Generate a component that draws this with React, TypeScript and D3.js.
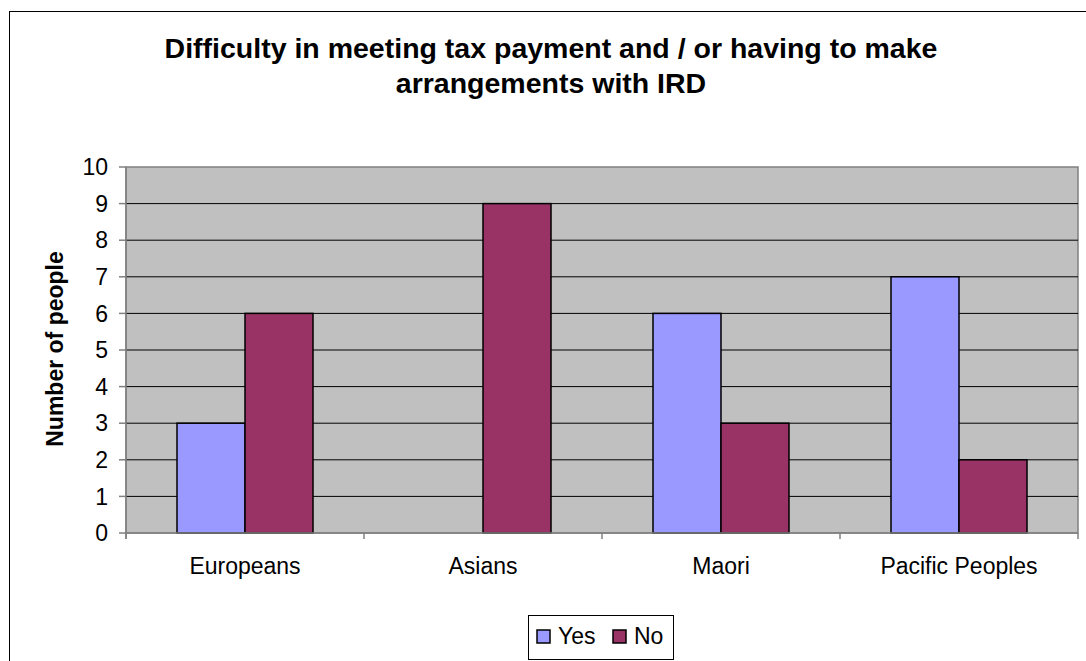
import React from "react";
import * as d3 from "d3";

const categories = ["Europeans", "Asians", "Maori", "Pacific Peoples"];
const seriesNames = ["Yes", "No"];
const yesValues = [3, 0, 6, 7];
const noValues = [6, 9, 3, 2];
const yTicks = [0, 1, 2, 3, 4, 5, 6, 7, 8, 9, 10];
const titleLines = [
  "Difficulty in meeting tax payment and / or having to make",
  "arrangements with IRD",
];
const yLabel = "Number of people";
const colors = ["#9999FF", "#993366"];

const W = 1086;
const H = 661;
const plot = { left: 126, right: 1078, top: 167, bottom: 533 };
const font = "Arial, 'Liberation Sans', sans-serif";

export default function App() {
  const x = d3.scaleBand<string>().domain(categories).range([plot.left, plot.right]).padding(0);
  const xs = d3
    .scaleBand<string>()
    .domain(seriesNames)
    .range([0, x.bandwidth()])
    .paddingInner(0)
    .paddingOuter(0.75);
  const y = d3.scaleLinear().domain([0, 10]).range([plot.bottom, plot.top]);
  const series = [yesValues, noValues];
  const boundaries = [...categories.map((c) => x(c) as number), plot.right];

  return (
    <svg
      width={W}
      height={H}
      style={{ position: "absolute", left: 0, top: 0, background: "#fff" }}
      fontFamily={font}
    >
      <rect x={9.5} y={11.5} width={1090} height={660} fill="#fff" stroke="#000" strokeWidth={1} />
      {titleLines.map((t, i) => (
        <text
          key={i}
          x={551}
          y={58 + i * 35}
          textAnchor="middle"
          fontSize={28.5}
          fontWeight="bold"
          fill="#000"
        >
          {t}
        </text>
      ))}
      <rect
        x={plot.left}
        y={plot.top}
        width={plot.right - plot.left}
        height={plot.bottom - plot.top}
        fill="#C0C0C0"
        stroke="#808080"
        strokeWidth={1.5}
      />
      {yTicks.slice(1, -1).map((t) => (
        <line key={t} x1={plot.left} x2={plot.right} y1={y(t)} y2={y(t)} stroke="#000" strokeWidth={1} />
      ))}
      {series.map((vals, si) =>
        categories.map((c, ci) =>
          vals[ci] > 0 ? (
            <rect
              key={`${si}-${ci}`}
              x={(x(c) as number) + (xs(seriesNames[si]) as number)}
              y={y(vals[ci])}
              width={xs.bandwidth()}
              height={y(0) - y(vals[ci])}
              fill={colors[si]}
              stroke="#000"
              strokeWidth={1.5}
            />
          ) : null
        )
      )}
      <line x1={plot.left} x2={plot.left} y1={plot.top} y2={plot.bottom + 6} stroke="#808080" strokeWidth={1.5} />
      <line x1={plot.left} x2={plot.right} y1={plot.bottom} y2={plot.bottom} stroke="#808080" strokeWidth={1.5} />
      {yTicks.map((t) => (
        <g key={t}>
          <line x1={plot.left - 7} x2={plot.left} y1={y(t)} y2={y(t)} stroke="#808080" strokeWidth={1.5} />
          <text x={108} y={y(t)} dy="0.36em" textAnchor="end" fontSize={23} fill="#000">
            {t}
          </text>
        </g>
      ))}
      {boundaries.map((b, i) => (
        <line key={i} x1={b} x2={b} y1={plot.bottom} y2={plot.bottom + 6} stroke="#808080" strokeWidth={1.5} />
      ))}
      {categories.map((c) => (
        <text
          key={c}
          x={(x(c) as number) + x.bandwidth() / 2}
          y={574}
          textAnchor="middle"
          fontSize={23}
          fill="#000"
        >
          {c}
        </text>
      ))}
      <text
        transform={`translate(63, 349) rotate(-90)`}
        textAnchor="middle"
        fontSize={23}
        fontWeight="bold"
        fill="#000"
      >
        {yLabel}
      </text>
      <rect x={528.5} y={615.5} width={145} height={44} fill="#fff" stroke="#000" strokeWidth={1} />
      {seriesNames.map((s, i) => {
        const lx = i === 0 ? 537 : 613;
        return (
          <g key={s}>
            <rect x={lx} y={630} width={13} height={13} fill={colors[i]} stroke="#000" strokeWidth={1.5} />
            <text x={lx + 21} y={643.5} fontSize={23} fill="#000">
              {s}
            </text>
          </g>
        );
      })}
    </svg>
  );
}
